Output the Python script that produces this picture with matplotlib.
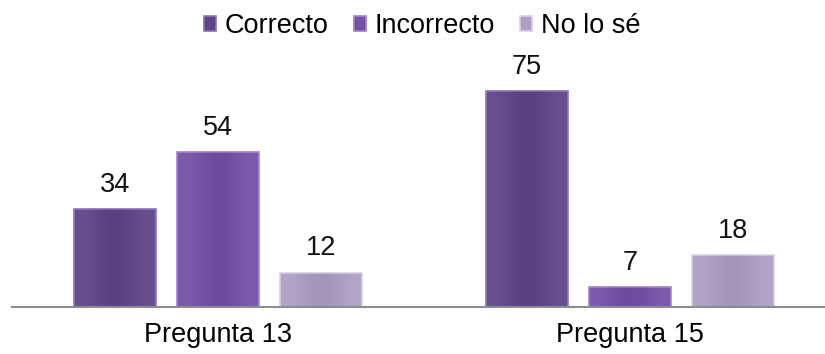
import matplotlib.pyplot as plt
import numpy as np

plt.rcParams['font.family'] = ['Liberation Sans', 'DejaVu Sans']

# --- Data ---
preguntas = ["Pregunta 13", "Pregunta 15"]
series = ["Correcto", "Incorrecto", "No lo sé"]
correcto = [34, 75]
incorrecto = [54, 7]
no_lo_se = [12, 18]
values = [correcto, incorrecto, no_lo_se]

colors = ["#5e4589", "#7550a6", "#ad9fc6"]
light = ["#8a72b5", "#a07fd0", "#d8cfe6"]

W, H = 825, 354
fig = plt.figure(figsize=(W / 100, H / 100), dpi=100)
# axes in pixel coords: x from 12 to 836, baseline at 307, top at 77
ax = fig.add_axes([12 / W, (H - 307) / H, 824 / W, 230 / H])

x = np.arange(len(preguntas))
width = 0.2
offsets = [-0.25, 0, 0.25]

for i, (name, vals) in enumerate(zip(series, values)):
    bars = ax.bar(x + offsets[i], vals, width, color=colors[i], label=name,
                  edgecolor=light[i], linewidth=1.2, zorder=2)
    for b in bars:
        # soft horizontal shading to mimic the bevelled look
        grad = np.linspace(0, 1, 50)
        shade = 0.5 - 0.5 * np.cos(grad * 2 * np.pi)
        img = ax.imshow(shade[None, :], cmap="Greys", alpha=0.06,
                        extent=[b.get_x(), b.get_x() + b.get_width(), 0, b.get_height()],
                        aspect="auto", zorder=3, vmin=0, vmax=1)
        img.set_clip_path(b)
        ax.annotate(str(int(b.get_height())),
                    (b.get_x() + b.get_width() / 2, b.get_height()),
                    xytext=(0, 8), textcoords="offset points",
                    ha="center", va="bottom", fontsize=19.5, color="#111111")

ax.set_xlim(-0.5, 1.5)
ax.set_ylim(0, 80)
ax.set_xticks(x)
ax.set_xticklabels(preguntas, fontsize=19.5)
ax.tick_params(axis="x", length=0, pad=11)
ax.set_yticks([])
for s in ["top", "right", "left"]:
    ax.spines[s].set_visible(False)
ax.spines["bottom"].set_color("#8c8c8c")
ax.spines["bottom"].set_linewidth(1.5)
ax.spines["bottom"].set_zorder(4)

fig.legend(loc="center", bbox_to_anchor=(422 / W, 1 - 26 / H), ncol=3,
           frameon=False, fontsize=19.5, handlelength=0.45, handleheight=0.45,
           handletextpad=0.3, columnspacing=0.95)

fig.savefig("out.png", dpi=100)
